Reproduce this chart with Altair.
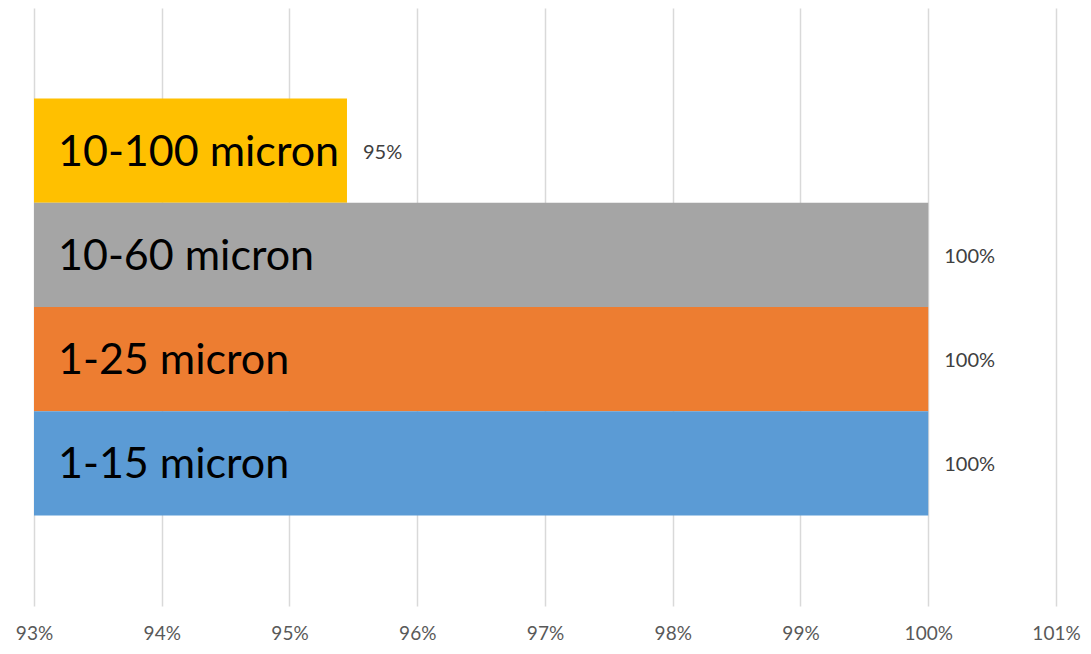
import altair as alt
import pandas as pd

series = ["10-100 micron", "10-60 micron", "1-25 micron", "1-15 micron"]
values = [0.9545, 1.0, 1.0, 1.0]
value_labels = ["95%", "100%", "100%", "100%"]
colors = ["#FFC000", "#A5A5A5", "#ED7D31", "#5B9BD5"]
tick_values = [0.93, 0.94, 0.95, 0.96, 0.97, 0.98, 0.99, 1.00, 1.01]

df = pd.DataFrame({"series": series, "value": values, "vlabel": value_labels})

FONT = "Lato"

x = alt.X("value:Q",
          scale=alt.Scale(domain=[0.93, 1.01], zero=False, nice=False),
          axis=alt.Axis(values=tick_values, format=".0%", title=None,
                        domain=False, ticks=False, grid=True,
                        gridColor="#D9D9D9", gridWidth=1.5,
                        labelFont=FONT, labelFontSize=19, labelColor="#595959",
                        labelPadding=18, labelFlush=False))
y = alt.Y("series:N", sort=series,
          scale=alt.Scale(paddingInner=0, paddingOuter=0.868),
          axis=None)

bars = alt.Chart(df).mark_bar(clip=True).encode(
    x=x, x2=alt.datum(0.93), y=y,
    color=alt.Color("series:N", scale=alt.Scale(domain=series, range=colors), legend=None),
)

inner = alt.Chart(df).mark_text(align="left", baseline="middle", dx=24, dy=2,
                                font=FONT, fontSize=43, color="#000000").encode(
    x=alt.datum(0.93), y=y, text="series:N")

vals = alt.Chart(df).mark_text(align="left", baseline="middle", dx=16, dy=2,
                               font=FONT, fontSize=20, color="#404040").encode(
    x="value:Q", y=y, text="vlabel:N")

chart = alt.layer(bars, inner, vals).properties(
    width=1022, height=598,
    padding={"left": 26, "top": 0, "right": 27, "bottom": 40},
    autosize=alt.AutoSizeParams(type="none"),
).configure_view(stroke=None)

chart.save("out.html", embed_options={"renderer": "svg", "actions": False})
